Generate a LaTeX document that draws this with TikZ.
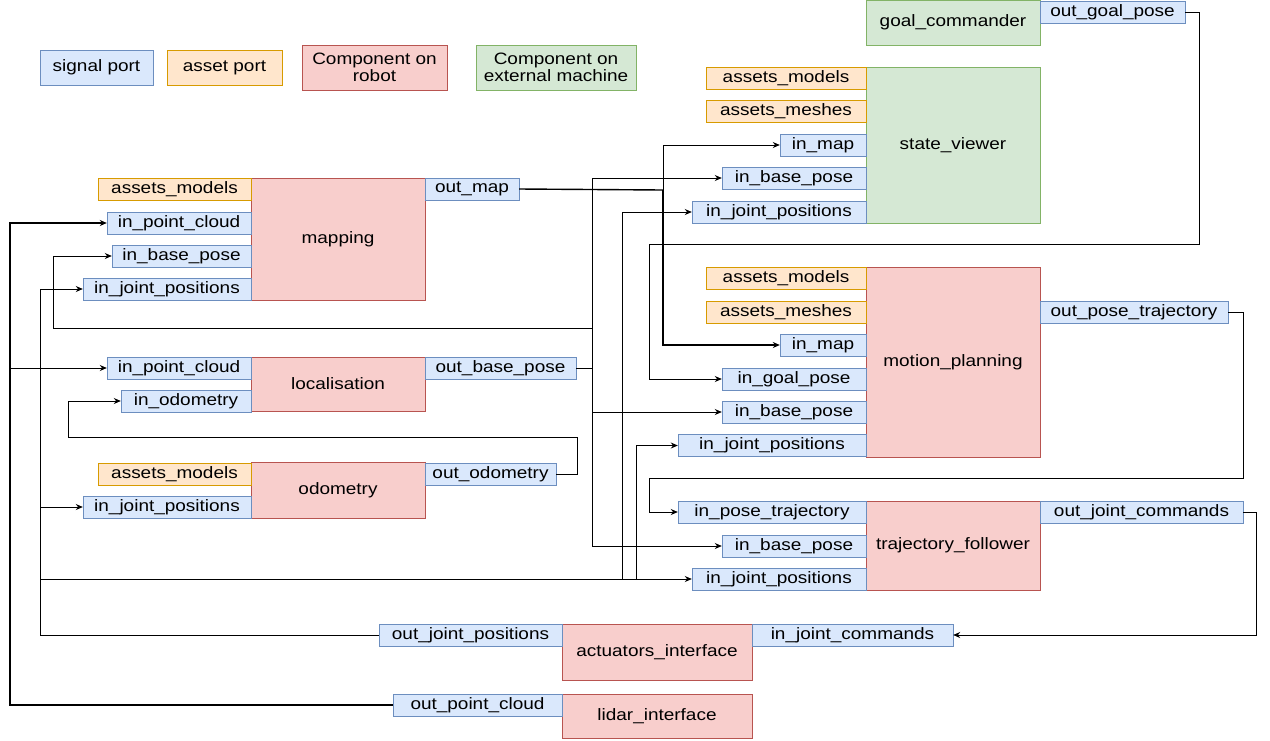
\documentclass[tikz,border=0pt]{standalone}
\usepackage{fontspec}
\setmainfont{Liberation Sans}[FakeStretch=1.15]
\usetikzlibrary{arrows.meta, positioning}

\definecolor{sigfill}{HTML}{DAE8FC}\definecolor{sigline}{HTML}{6C8EBF}
\definecolor{astfill}{HTML}{FFE6CC}\definecolor{astline}{HTML}{D79B00}
\definecolor{robfill}{HTML}{F8CECC}\definecolor{robline}{HTML}{B85450}
\definecolor{extfill}{HTML}{D5E8D4}\definecolor{extline}{HTML}{82B366}

\tikzset{
  box/.style={draw, inner sep=0pt, font=\fontsize{16.5}{17}\selectfont, align=center},
  sig/.style={box, fill=sigfill, draw=sigline, minimum height=22pt},
  ast/.style={box, fill=astfill, draw=astline, minimum height=22pt},
  rob/.style={box, fill=robfill, draw=robline},
  ext/.style={box, fill=extfill, draw=extline},
  wire/.style={black, line width=0.9pt},
  arr/.style={wire, -{Stealth[length=7pt,width=6pt]}}
}

\begin{document}
\begin{tikzpicture}[x=1pt, y=-1pt]
    \path[use as bounding box, fill=white] (0,0) rectangle (1270,740);

    % Legend
    \node[sig, minimum width=113pt, minimum height=35pt] (lgsig) at (96.5,67.5) {signal port};
    \node[ast, minimum width=115pt, minimum height=35pt] (lgast) at (224.5,67.5) {asset port};
    \node[rob, minimum width=145pt, minimum height=45pt] (lgrob) at (374.5,67.5) {Component on\\robot};
    \node[ext, minimum width=160pt, minimum height=45pt] (lgext) at (556,67.5) {Component on\\external machine};

    % goal_commander
    \node[ext, minimum width=174pt, minimum height=45pt] (gc) at (953,22.5) {goal\_commander};
    \node[sig, minimum width=145pt] (gcgoal) at (1112.5,12) {out\_goal\_pose};

    % state_viewer
    \node[ext, minimum width=174pt, minimum height=156pt] (sv) at (953,145) {state\_viewer};
    \node[ast, minimum width=160pt] (svmod) at (786,78) {assets\_models};
    \node[ast, minimum width=160pt] (svmesh) at (786,111) {assets\_meshes};
    \node[sig, minimum width=86pt] (svmap) at (823,145) {in\_map};
    \node[sig, minimum width=144pt] (svbase) at (794,178) {in\_base\_pose};
    \node[sig, minimum width=174pt] (svjoint) at (779,212) {in\_joint\_positions};

    % mapping
    \node[rob, minimum width=174pt, minimum height=122pt] (mp) at (338,239) {mapping};
    \node[ast, minimum width=153pt] (mpmod) at (174.5,189) {assets\_models};
    \node[sig, minimum width=144pt] (mpcloud) at (179,223) {in\_point\_cloud};
    \node[sig, minimum width=139pt] (mpbase) at (181.5,256) {in\_base\_pose};
    \node[sig, minimum width=168pt] (mpjoint) at (167,289) {in\_joint\_positions};
    \node[sig, minimum width=94pt] (mpmap) at (472,189) {out\_map};

    % localisation
    \node[rob, minimum width=174pt, minimum height=54pt] (lc) at (338,384) {localisation};
    \node[sig, minimum width=144pt] (lccloud) at (179,368) {in\_point\_cloud};
    \node[sig, minimum width=130pt] (lcodom) at (186,401) {in\_odometry};
    \node[sig, minimum width=151pt] (lcbase) at (500.5,368) {out\_base\_pose};

    % odometry
    \node[rob, minimum width=174pt, minimum height=56pt] (od) at (338,490) {odometry};
    \node[ast, minimum width=153pt] (odmod) at (174.5,474) {assets\_models};
    \node[sig, minimum width=168pt] (odjoint) at (167,507) {in\_joint\_positions};
    \node[sig, minimum width=131pt] (ododom) at (490.5,474) {out\_odometry};

    % motion_planning
    \node[rob, minimum width=174pt, minimum height=190pt] (mo) at (953,362) {motion\_planning};
    \node[ast, minimum width=160pt] (momod) at (786,278) {assets\_models};
    \node[ast, minimum width=160pt] (momesh) at (786,312) {assets\_meshes};
    \node[sig, minimum width=86pt] (momap) at (823,345) {in\_map};
    \node[sig, minimum width=144pt] (mogoal) at (794,379) {in\_goal\_pose};
    \node[sig, minimum width=144pt] (mobase) at (794,412) {in\_base\_pose};
    \node[sig, minimum width=188pt] (mojoint) at (772,445.5) {in\_joint\_positions};
    \node[sig, minimum width=188pt] (motraj) at (1134,312) {out\_pose\_trajectory};

    % trajectory_follower
    \node[rob, minimum width=174pt, minimum height=89pt] (tf) at (953,545.5) {trajectory\_follower};
    \node[sig, minimum width=188pt] (tftraj) at (772,512) {in\_pose\_trajectory};
    \node[sig, minimum width=144pt] (tfbase) at (794,546) {in\_base\_pose};
    \node[sig, minimum width=174pt] (tfjoint) at (779,579) {in\_joint\_positions};
    \node[sig, minimum width=203pt] (tfcmd) at (1141.5,512) {out\_joint\_commands};

    % actuators_interface
    \node[rob, minimum width=190pt, minimum height=56pt] (ai) at (657,652) {actuators\_interface};
    \node[sig, minimum width=183pt] (aijoint) at (470.5,635) {out\_joint\_positions};
    \node[sig, minimum width=201pt] (aicmd) at (852.5,635) {in\_joint\_commands};

    % lidar_interface
    \node[rob, minimum width=190pt, minimum height=44pt] (li) at (657,716) {lidar\_interface};
    \node[sig, minimum width=169pt] (licloud) at (477.5,705) {out\_point\_cloud};

    % point cloud
    \draw[arr, line width=1.4pt] (licloud.west) -| (10,223) -- (mpcloud.west);
    \draw[arr] (10,368) -- (lccloud.west);

    % joint positions
    \draw[arr] (aijoint.west) -| (40,289) -- (mpjoint.west);
    \draw[arr] (40,507) -- (odjoint.west);
    \draw[arr] (40,579) -- (tfjoint.west);
    \draw[arr] (622,579) |- (svjoint.west);
    \draw[arr] (636,579) |- (mojoint.west);

    % map
    \draw[wire, line width=1.4pt] (mpmap.east) -- (663,190);
    \draw[arr] (663,190) |- (svmap.west);
    \draw[arr, line width=1.4pt] (663,190) |- (momap.west);

    % base pose
    \draw[wire] (lcbase.east) -- (592,368);
    \draw[wire] (592,178) -- (592,546);
    \draw[arr] (592,178) -- (svbase.west);
    \draw[arr] (592,412) -- (mobase.west);
    \draw[arr] (592,546) -- (tfbase.west);
    \draw[arr] (592,328) -| (53,256) -- (mpbase.west);

    % odometry
    \draw[arr] (ododom.east) -| (577,437) -| (68,401) -- (lcodom.west);

    % goal pose
    \draw[arr] (gcgoal.east) -| (1199,244) -| (649,379) -- (mogoal.west);

    % pose trajectory
    \draw[arr] (motraj.east) -| (1243,478) -| (649,512) -- (tftraj.west);

    % joint commands
    \draw[arr] (tfcmd.east) -| (1256,635) -- (aicmd.east);
\end{tikzpicture}
\end{document}
